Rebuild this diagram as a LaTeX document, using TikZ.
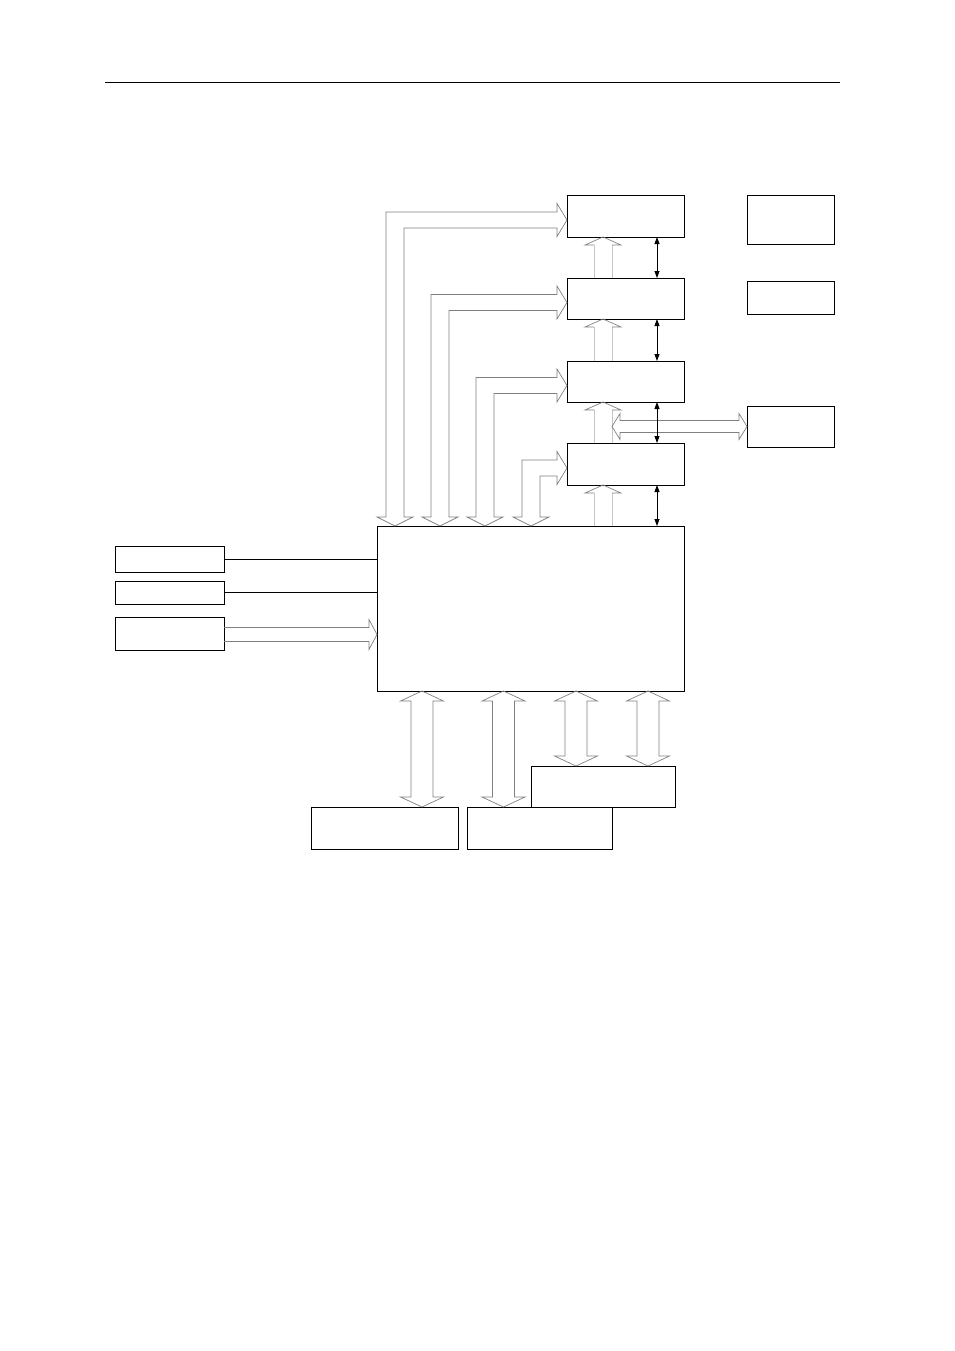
\documentclass[tikz,border=0pt]{standalone}
\usetikzlibrary{calc, arrows.meta}

% hollow bus arrows, drawn between node anchors
\newcommand{\vbus}[3]{%
  \draw[bus] let \p1=(#2), \p2=(#3), \p3=(#1,0) in
    (\x3,\y1) -- (\x3+21.5,\y1-10) -- (\x3+11,\y1-10) -- (\x3+11,\y2+10) -- (\x3+21.5,\y2+10) -- (\x3,\y2)
    -- (\x3-21.5,\y2+10) -- (\x3-11,\y2+10) -- (\x3-11,\y1-10) -- (\x3-21.5,\y1-10) -- cycle;}
\newcommand{\lbus}[2]{%
  \draw[bus] let \p1=(#2.west), \p2=(main.north), \p3=(#1,0) in
    (\x3,\y2) -- (\x3+18,\y2+9) -- (\x3+9,\y2+9) -- (\x3+9,\y1-12) -- (\x1-10,\y1-12) -- (\x1-10,\y1-20.5)
    -- (\x1,\y1-4) -- (\x1-10,\y1+12.5) -- (\x1-10,\y1+4) -- (\x3-9,\y1+4) -- (\x3-9,\y2+9) -- (\x3-18,\y2+9) -- cycle;}
\newcommand{\ubus}[2]{%
  \draw[bus, draw=black!22] let \p1=(#1.north), \p2=(#2.south), \p3=(upx) in
    (\x3-9,\y1) -- (\x3-9,\y2-8) (\x3+9,\y2-8) -- (\x3+9,\y1);
  \draw[bus] let \p1=(#1.north), \p2=(#2.south), \p3=(upx) in
    (\x3-9,\y2-8) -- (\x3-18,\y2-8) -- (\x3,\y2) -- (\x3+18,\y2-8) -- (\x3+9,\y2-8);}

\begin{document}
\begin{tikzpicture}[x=1pt, y=1pt,
    blk/.style={draw, line width=0.9pt, inner sep=0pt, outer sep=0pt},
    bus/.style={draw=black!50, line width=0.7pt, line join=miter},
    dbl/.style={<->, >={Triangle[length=7pt,width=5pt]}, line width=0.8pt}]
  \useasboundingbox (0,0) rectangle (954,-1351);
  \draw[line width=0.9pt] (105,-82) -- (840,-82);

  \node (ma) [blk, minimum width=117pt, minimum height=42pt] at (625.5,-216) {};
  \node (mb) [blk, minimum width=117pt, minimum height=41pt] at (625.5,-298.5) {};
  \node (mc) [blk, minimum width=117pt, minimum height=41pt] at (625.5,-381.5) {};
  \node (md) [blk, minimum width=117pt, minimum height=42pt] at (625.5,-464) {};
  \node (main) [blk, minimum width=307pt, minimum height=165pt] at (530.5,-608.5) {};

  \node (ra) [blk, minimum width=87pt, minimum height=49pt] at (790.5,-219.5) {};
  \node (rb) [blk, minimum width=87pt, minimum height=33pt] at (790.5,-297.5) {};
  \node (rc) [blk, minimum width=87pt, minimum height=41pt] at (790.5,-426.5) {};

  \node (la) [blk, minimum width=109pt, minimum height=26pt] at (169.5,-559) {};
  \node (lb) [blk, minimum width=109pt, minimum height=23pt] at (169.5,-592.5) {};
  \node (lc) [blk, minimum width=109pt, minimum height=33pt] at (169.5,-633.5) {};

  \node (ba) [blk, minimum width=147pt, minimum height=42pt] at (384.5,-828) {};
  \node (bb) [blk, minimum width=145pt, minimum height=42pt] at (539.5,-828) {};
  \node (bc) [blk, minimum width=144pt, minimum height=41pt] at (603,-786.5) {};

  \coordinate (upx) at (603,0);
  \coordinate (bx) at (657,0);

  \lbus{395}{ma}
  \lbus{440}{mb}
  \lbus{485}{mc}
  \lbus{531}{md}

  \ubus{mb}{ma}
  \ubus{mc}{mb}
  \ubus{md}{mc}
  \ubus{main}{md}

  \draw[bus] let \p1=(rc.west) in
    (612pt,\y1) -- (620pt,\y1+13) -- (620pt,\y1+6) -- (\x1-8,\y1+6) -- (\x1-8,\y1+13) -- (\x1,\y1)
    -- (\x1-8,\y1-13) -- (\x1-8,\y1-6) -- (620pt,\y1-6) -- (620pt,\y1-13) -- cycle;

  \draw[dbl] (ma.south -| bx) -- (mb.north -| bx);
  \draw[dbl] (mb.south -| bx) -- (mc.north -| bx);
  \draw[dbl] (mc.south -| bx) -- (md.north -| bx);
  \draw[dbl] (md.south -| bx) -- (main.north -| bx);

  \draw[line width=0.9pt] (la.east) -- (la.east -| main.west);
  \draw[line width=0.9pt] (lb.east) -- (lb.east -| main.west);
  \draw[bus] let \p1=(lc.east), \p2=(main.west |- lc.east) in
    (\x1,\y1+6) -- (\x2-8,\y1+6) -- (\x2-8,\y1+14) -- (\x2,\y1-1) -- (\x2-8,\y1-16) -- (\x2-8,\y1-8) -- (\x1,\y1-8);

  \vbus{422}{main.south}{ba.north}
  \vbus{503.5}{main.south}{bb.north}
  \vbus{576}{main.south}{bc.north}
  \vbus{648}{main.south}{bc.north}
\end{tikzpicture}
\end{document}
